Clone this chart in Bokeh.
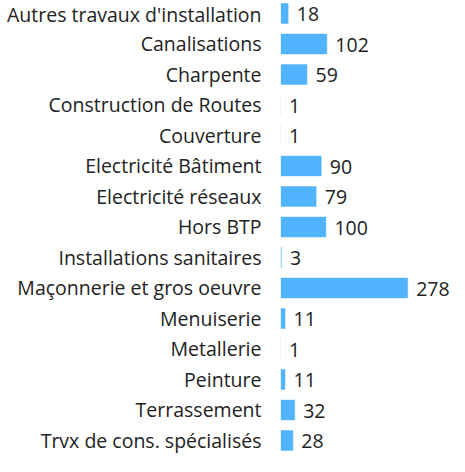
from bokeh.plotting import figure
from bokeh.models import ColumnDataSource, Range1d, FixedTicker
from bokeh.core.properties import value
from bokeh.embed import file_html
from bokeh.resources import INLINE

categories = ["Autres travaux d'installation", "Canalisations", "Charpente",
              "Construction de Routes", "Couverture", "Electricité Bâtiment",
              "Electricité réseaux", "Hors BTP", "Installations sanitaires",
              "Maçonnerie et gros oeuvre", "Menuiserie", "Metallerie",
              "Peinture", "Terrassement", "Trvx de cons. spécialisés"]
counts = [18, 102, 59, 1, 1, 90, 79, 100, 3, 278, 11, 1, 11, 32, 28]

n = len(categories)
pos = list(range(n))
src = ColumnDataSource(dict(y=pos, v=counts, lbl=[str(c) for c in counts], cat=categories))

p = figure(width=449, height=456, output_backend="svg", toolbar_location=None,
           x_range=Range1d(0, 368), y_range=Range1d(14.525, -0.426),
           min_border_left=280, min_border_right=0, min_border_top=0, min_border_bottom=0)

p.hbar(y="y", right="v", left=0, height=0.69, source=src,
       fill_color="#52B4FF", line_color="white", line_alpha=0.6, line_width=1)
p.text(x="v", y="y", text="lbl", source=src, x_offset=8, y_offset=1,
       text_align="left", text_baseline="middle", text_font=value("Open Sans"),
       text_font_size="19.5px", text_color="#222222")

p.xaxis.visible = False
ax = p.yaxis[0]
ax.ticker = FixedTicker(ticks=pos)
ax.major_label_overrides = {i: c for i, c in zip(pos, categories)}
ax.axis_line_color = None
ax.major_tick_line_color = None
ax.minor_tick_line_color = None
ax.major_tick_out = 0
ax.major_tick_in = 0
ax.major_label_standoff = 19
ax.major_label_text_font = "Open Sans"
ax.major_label_text_font_size = "19.5px"
ax.major_label_text_color = "#222222"
p.grid.visible = False
p.outline_line_color = None

open("out.html", "w").write(file_html(p, INLINE))
